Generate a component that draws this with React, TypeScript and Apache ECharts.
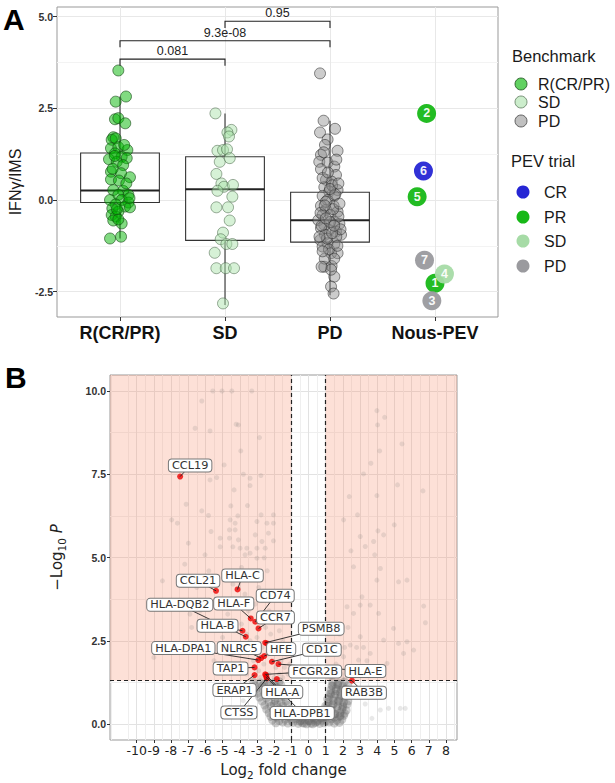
import React, { useEffect, useRef } from 'react';
import * as echarts from 'echarts';

// ---------- Panel A data ----------
const groupNames = ['R(CR/PR)', 'SD', 'PD', 'Nous-PEV'];
// [lower whisker, Q1, median, Q3, upper whisker]
const boxStats = [
  [-1.05, -0.07, 0.26, 1.28, 2.82],
  [-2.86, -1.1, 0.29, 1.18, 2.36],
  [-2.6, -1.15, -0.55, 0.21, 2.16],
];
const rPoints = [
  [0.984, 3.53], [0.959, 2.68], [1.057, 2.82], [0.952, 2.2], [0.984, 2.23], [1.05, 2.09], [0.936, 1.71],
  [0.921, 1.64], [0.959, 1.68], [0.914, 1.41], [0.984, 1.44], [1.07, 1.36], [0.952, 1.27], [1.016, 1.18],
  [0.895, 1.11], [1.064, 1.14], [0.969, 1.04], [1.03, 0.95], [0.914, 0.77], [1.01, 0.73], [1.095, 0.62],
  [0.914, 0.56], [0.99, 0.53], [0.936, 0.27], [1.03, 0.25], [1.08, 0.14], [0.984, 0.14], [0.905, 0.0],
  [1.016, 0.0], [1.08, -0.07], [0.959, -0.12], [0.927, -0.23], [1.048, -0.18], [1.095, -0.2], [0.984, -0.32],
  [0.921, -0.41], [0.959, -0.45], [0.936, -0.56], [1.016, -0.64], [0.984, -0.53], [0.905, -1.05], [1.01, -1.0],
  [1.04, 1.5], [0.93, 0.85], [1.06, 0.45], [0.97, -0.25], [1.09, 0.05], [0.95, 1.2],
];
const sdPoints = [
  [1.909, 2.36], [2.061, 1.91], [2.023, 1.84], [2.038, 1.73], [1.928, 1.34], [1.981, 1.36], [2.019, 1.38],
  [1.95, 1.04], [2.045, 1.14], [1.918, 0.71], [1.966, 0.45], [1.99, 0.36], [2.076, 0.41], [1.928, 0.25],
  [2.07, 0.09], [1.918, -0.2], [2.029, -0.2], [2.045, -0.56], [1.981, -0.89], [1.959, -1.07], [2.013, -1.2],
  [2.07, -1.2], [1.902, -1.44], [1.918, -1.86], [2.007, -1.86], [2.086, -1.86], [1.981, -2.82],
];
const pdPoints = [
  [2.905, 3.45], [2.939, 2.16], [3.048, 1.94], [2.905, 1.84], [2.977, 1.65], [2.952, 1.5], [3.072, 1.34],
  [2.914, 1.23], [2.898, 1.04], [2.977, 1.02], [2.914, 0.84], [3.041, 0.91], [3.057, 0.68], [2.962, 0.55],
  [3.015, 0.5], [2.946, 0.35], [3.072, 0.27], [2.993, 0.23], [2.93, 0.11], [3.041, 0.11], [2.977, 0.0],
  [2.914, -0.16], [3.034, -0.16], [2.962, -0.27], [3.072, -0.32], [2.93, -0.41], [3.003, -0.41], [2.889, -0.55],
  [3.041, -0.59], [2.946, -0.68], [3.089, -0.65], [2.914, -0.77], [2.993, -0.82], [3.057, -0.86], [2.952, -0.95],
  [3.105, -0.95], [2.908, -1.09], [2.977, -1.18], [3.041, -1.2], [2.93, -1.27], [3.01, -1.45], [3.072, -1.45],
  [2.946, -1.82], [3.015, -1.8], [3.041, -2.09], [3.01, -2.36], [3.034, -2.55],
  [2.96, -0.05], [3.02, 0.4], [2.92, -0.7], [3.06, -1.0], [2.99, -1.35], [3.08, -0.45], [2.93, 0.6],
  [3.03, -0.25], [2.97, -1.05], [3.05, 0.15], [2.91, -0.35], [3.0, -0.6], [3.1, -0.8], [2.95, -1.6],
  [3.04, -1.6], [2.94, 1.3], [3.06, 1.1], [2.98, 0.75], [3.01, -1.9], [2.95, -0.15], [3.07, -1.25],
  [2.9, -1.0], [3.02, -0.9], [2.96, -0.5], [3.04, -0.7], [3.09, -0.1], [2.93, -1.4], [3.0, 0.3],
  [2.92, -1.82], [3.08, 0.45],
];
const pevIds = ['1', '2', '3', '4', '5', '6', '7'];
const pevX = [4.0, 3.92, 3.97, 4.09, 3.83, 3.89, 3.9];
const pevY = [-2.27, 2.36, -2.75, -2.02, 0.09, 0.79, -1.64];
const pevResponse = ['PR', 'PR', 'PD', 'SD', 'PR', 'CR', 'PD'];
const bracketFrom = [1, 1, 2];
const bracketTo = [2, 3, 3];
const bracketY = [3.84, 4.34, 4.87];
const bracketLabels = ['0.081', '9.3e-08', '0.95'];
const benchmarkNames = ['R(CR/PR)', 'SD', 'PD'];
const pevTrialNames = ['CR', 'PR', 'SD', 'PD'];
const aYTicks = [-2.5, 0, 2.5, 5];
const aYMinor = [-1.25, 1.25, 3.75];

// ---------- Panel B data ----------
const geneNames = ['CCL19', 'CCL21', 'HLA-C', 'HLA-F', 'CD74', 'CCR7', 'HLA-B', 'HLA-DQB2', 'PSMB8', 'HLA-DPA1',
  'NLRC5', 'HFE', 'CD1C', 'FCGR2B', 'HLA-E', 'TAP1', 'ERAP1', 'HLA-A', 'CTSS', 'HLA-DPB1', 'RAB3B'];
const geneLog2FC = [-7.47, -5.38, -4.13, -3.36, -3.1, -2.91, -3.84, -3.65, -2.52, -2.92,
  -2.75, -2.58, -2.13, -2.52, -1.75, -3.14, -3.14, -2.46, -2.42, -2.46, 2.53];
const geneNegLogP = [7.43, 4.0, 4.04, 3.17, 3.07, 2.87, 2.8, 2.62, 2.44, 1.92,
  1.98, 2.04, 1.87, 1.49, 1.8, 1.7, 1.47, 1.47, 1.37, 1.41, 1.3];
// label placement offsets (px) relative to the gene point
const labelOffsets = [[10, -11], [-18, -10], [5, -14], [-17, -15], [20, -26], [17, -11], [-25, -5], [-66, -32],
  [56, -14], [-75, -12], [-22, -10], [17, -7], [50, -12], [50, -3], [87, 7], [-24, 1], [-20, 15], [16, 17],
  [-28, 34], [36, 36], [12, 12]];
const extraHighlighted = [[-1.84, 1.35], [-2.42, 2.42]];
const sigGrayPoints = [
  [-5.57, 10], [-5.03, 10], [-4.46, 10], [-3.3, 10], [-6.21, 9.7], [-6.6, 8.88], [-5.73, 8.8], [-4.21, 9.0],
  [-4.08, 8.98], [-2.85, 8.6], [-3.94, 8.2], [-4.91, 7.78], [-5.73, 7.33], [-5.34, 7.4], [-3.79, 7.5], [-2.77, 7.46],
  [-3.4, 7.38], [-3.4, 7.16], [-4.33, 7.03], [-7.12, 6.6], [-4.52, 6.55], [-3.55, 6.56], [-6.21, 6.4], [-5.82, 6.26],
  [-7.96, 6.13], [-7.63, 6.03], [-4.56, 6.13], [-4.27, 6.03], [-4.11, 6.25], [-2.76, 6.28], [-3.0, 6.08], [-2.42, 6.03],
  [-2.04, 6.28], [-2.04, 6.03], [-5.67, 5.78], [-4.6, 5.83], [-4.27, 5.83], [-5.14, 5.58], [-4.6, 5.58], [-4.08, 5.53],
  [-3.1, 5.68], [-2.33, 5.73], [-2.04, 5.5], [-2.71, 5.48], [-6.99, 5.43], [-6.02, 5.08], [-5.14, 5.32], [-4.4, 5.32],
  [-3.98, 5.28], [-3.59, 5.28], [-3.4, 5.13], [-3.0, 5.28], [-2.52, 5.28], [-3.69, 5.08], [-3.0, 4.98], [-2.58, 4.99],
  [-8.5, 4.3], [-7.8, 3.6], [-7.2, 4.8], [-6.8, 2.9], [-6.5, 4.1], [-6.3, 3.4], [-6.0, 2.4], [-5.8, 4.6], [-5.6, 3.0],
  [-5.5, 1.9], [-5.2, 3.7], [-5.0, 2.6], [-4.9, 4.5], [-4.8, 1.6], [-4.7, 3.3], [-4.5, 2.1], [-4.4, 4.2], [-4.3, 2.8],
  [-4.2, 3.6], [-4.0, 1.8], [-3.9, 4.7], [-3.8, 2.3], [-3.7, 3.9], [-3.6, 1.5], [-3.5, 3.4], [-3.4, 2.5], [-3.3, 4.4],
  [-3.2, 1.9], [-3.1, 3.6], [-3.0, 2.6], [-2.9, 4.1], [-2.9, 1.6], [-2.8, 3.2], [-2.7, 2.3], [-2.6, 3.8], [-2.6, 1.8],
  [-2.5, 2.9], [-2.4, 2.1], [-2.4, 4.6], [-2.3, 3.4], [-2.3, 1.5], [-2.2, 2.7], [-2.1, 1.9], [-2.1, 3.9], [-2.0, 2.4],
  [-2.0, 1.4], [-1.9, 3.1], [-1.9, 1.7], [-1.8, 2.2], [-1.7, 2.8], [-1.7, 1.5], [-1.6, 1.9], [-1.5, 2.5], [-1.5, 1.4],
  [-1.4, 1.7], [-1.3, 2.1], [-1.2, 1.5], [-1.1, 1.8], [-3.3, 2.2], [-3.6, 2.7], [-2.8, 1.4], [-3.9, 3.0], [-5.4, 4.4],
  [-6.9, 3.3], [-7.6, 2.4], [-9.0, 2.0],
  [3.98, 9.41], [4.43, 9.21], [4.02, 8.98], [5.44, 8.41], [4.14, 8.2], [3.63, 7.83], [3.2, 7.51], [5.18, 7.18],
  [6.66, 7.0], [2.37, 6.83], [3.98, 6.86], [2.04, 6.13], [2.85, 6.28], [4.99, 5.98], [4.04, 5.8], [4.37, 5.68],
  [3.79, 5.48], [3.01, 5.63], [3.3, 5.33], [2.47, 5.2], [3.85, 5.08], [2.62, 4.72], [4.18, 4.67], [5.24, 4.27],
  [5.73, 4.32], [3.98, 4.32], [3.11, 3.82], [3.59, 3.57], [3.01, 3.57], [6.7, 3.54], [6.8, 3.04], [4.08, 3.32],
  [2.62, 3.32], [2.24, 3.52], [4.95, 2.87], [5.73, 2.47], [6.12, 2.22], [5.24, 2.42], [4.37, 2.52], [3.59, 2.12],
  [3.01, 2.62], [2.43, 2.37], [2.04, 2.02], [2.91, 1.92], [3.79, 1.72], [4.57, 1.82], [1.46, 1.52], [2.24, 1.62],
  [3.3, 1.52], [5.53, 2.12], [1.3, 1.4], [1.6, 1.8], [1.9, 1.5], [2.1, 2.3], [2.6, 1.7], [1.5, 2.1], [2.8, 2.3],
  [1.8, 2.7], [2.3, 2.9], [3.2, 2.3], [3.4, 1.9], [2.0, 1.35], [2.7, 1.45],
  [4.66, 0.47], [5.34, 0.47], [5.63, 0.47], [3.69, 0.17], [4.18, 0.42], [3.0, 0.9], [3.3, 0.6], [-4.2, 1.0],
  [-3.8, 0.7], [-4.6, 0.5], [-3.5, 1.15],
];
const cloudPoints = [
  [-1.9, 0.03], [-1.5, 0.05], [-1.2, 0.02], [-0.9, 0.04], [-0.6, 0.01], [-0.35, 0.03], [-0.1, 0.0], [0.15, 0.02],
  [0.4, 0.04], [0.65, 0.01], [0.9, 0.03], [1.2, 0.05], [1.5, 0.02], [1.8, 0.04],
  [-2.1, 0.12], [-1.7, 0.1], [-1.35, 0.13], [-1.0, 0.11], [-0.75, 0.14], [-0.45, 0.1], [-0.2, 0.12], [0.05, 0.09],
  [0.3, 0.13], [0.55, 0.11], [0.8, 0.12], [1.05, 0.1], [1.35, 0.14], [1.65, 0.11], [1.95, 0.13],
  [-2.2, 0.22], [-1.85, 0.2], [-1.5, 0.24], [-1.15, 0.21], [-0.85, 0.23], [-0.5, 0.2], [-0.15, 0.22], [0.25, 0.19],
  [0.6, 0.23], [0.9, 0.21], [1.2, 0.24], [1.5, 0.2], [1.8, 0.22], [2.05, 0.25],
  [-2.3, 0.33], [-1.95, 0.31], [-1.6, 0.35], [-1.25, 0.32], [-0.95, 0.34], [-0.6, 0.3], [0.6, 0.31], [0.95, 0.35],
  [1.25, 0.33], [1.55, 0.3], [1.85, 0.34], [2.1, 0.32],
  [-2.45, 0.44], [-2.05, 0.42], [-1.7, 0.46], [-1.35, 0.43], [-1.05, 0.45], [-0.8, 0.41], [0.8, 0.43], [1.05, 0.46],
  [1.35, 0.42], [1.65, 0.45], [1.95, 0.44], [2.2, 0.41],
  [-2.55, 0.56], [-2.2, 0.54], [-1.85, 0.58], [-1.5, 0.55], [-1.2, 0.57], [1.1, 0.55], [1.4, 0.58], [1.7, 0.54],
  [2.0, 0.56], [2.25, 0.59],
  [-2.7, 0.68], [-2.3, 0.66], [-1.95, 0.7], [-1.6, 0.67], [-1.3, 0.69], [1.15, 0.66], [1.45, 0.7], [1.75, 0.68],
  [2.05, 0.65], [2.3, 0.69],
  [-2.85, 0.8], [-2.45, 0.78], [-2.05, 0.82], [-1.7, 0.79], [-1.4, 0.81], [1.2, 0.8], [1.5, 0.83], [1.8, 0.78],
  [2.1, 0.81],
  [-2.95, 0.92], [-2.55, 0.9], [-2.15, 0.94], [-1.8, 0.91], [-1.45, 0.93], [1.25, 0.92], [1.55, 0.9], [1.85, 0.95],
  [2.15, 0.91],
  [-3.05, 1.04], [-2.65, 1.02], [-2.25, 1.06], [-1.9, 1.03], [-1.55, 1.05], [1.3, 1.03], [1.6, 1.06], [1.9, 1.02],
  [2.2, 1.05],
  [-3.1, 1.16], [-2.7, 1.14], [-2.3, 1.18], [-1.95, 1.15], [-1.6, 1.17], [1.35, 1.15], [1.7, 1.18], [2.0, 1.14],
  [2.3, 1.16],
  [-3.2, 1.26], [-2.8, 1.24], [-2.4, 1.27], [-2.0, 1.25], [-1.7, 1.28], [1.4, 1.26], [1.75, 1.24], [2.1, 1.27],
  [1.3, 0.9], [1.6, 1.0], [1.9, 0.85], [1.45, 0.6], [1.75, 0.7], [2.0, 0.5], [1.2, 0.35], [1.55, 0.3], [1.85, 0.25],
  [1.4, 1.15], [1.7, 1.2], [2.05, 1.05], [1.1, 0.75], [1.0, 0.55], [-0.5, 0.08], [0.0, 0.1], [0.5, 0.07],
  [0.25, 0.0], [-0.25, 0.02], [0.75, 0.18], [-0.7, 0.25], [1.0, 0.2], [-2.0, 0.6], [-1.6, 0.4], [-2.4, 0.9],
  [-1.8, 1.1], [-2.6, 1.2], [-1.3, 0.3],
];
const fcThreshold = 1;
const pThreshold = 1.3;
const bXTicks = [-10, -9, -8, -7, -6, -5, -4, -3, -2, -1, 0, 1, 2, 3, 4, 5, 6, 7, 8];
const bXMinor = [-11.5, -10.5, -9.5, -8.5, -7.5, -6.5, -5.5, -4.5, -3.5, -2.5, -1.5, -0.5, 0.5, 1.5, 2.5,
  3.5, 4.5, 5.5, 6.5, 7.5, 8.5];
const bYTicks = [0, 2.5, 5, 7.5, 10];
const bYMinor = [1.25, 3.75, 6.25, 8.75];

const A_X = [0.4, 4.6];
const A_Y = [-3.19, 5.26];
const B_X = [-11.55, 8.64];
const B_Y = [-0.48, 10.48];

const SANS = 'Liberation Sans, Arial, sans-serif';
const DJV = 'DejaVu Sans, sans-serif';

const pevColors: Record<string, string> = { CR: '#2626d4', PR: '#17b817', SD: '#a6dba6', PD: '#9a9a9e' };
const benchFill = ['rgba(0,180,0,0.62)', 'rgba(170,225,170,0.6)', 'rgba(140,140,140,0.55)'];
const benchStroke = ['rgba(20,70,20,0.85)', 'rgba(70,100,70,0.75)', 'rgba(40,40,40,0.75)'];

export default function App() {
  const ref = useRef<HTMLDivElement>(null);
  useEffect(() => {
    if (!ref.current) return;
    const chart = echarts.init(ref.current, null, { renderer: 'svg' });

    const minorAxis = (gridIndex: number, range: number[], customValues: number[], color: string) => ({
      type: 'value', gridIndex, min: range[0], max: range[1],
      axisLine: { show: false, onZero: false }, axisLabel: { show: false },
      axisTick: { show: false, customValues },
      splitLine: { show: true, lineStyle: { color, width: 1 } },
    });

    const benchSeries = [rPoints, sdPoints, pdPoints].map((pts, i) => ({
      type: 'scatter', name: benchmarkNames[i], xAxisIndex: 0, yAxisIndex: 0, data: pts,
      symbolSize: 11, z: 3,
      itemStyle: { color: benchFill[i], borderColor: benchStroke[i], borderWidth: 0.9 },
    }));

    const legendGraphics: any[] = [];
    legendGraphics.push({ type: 'text', left: 512, top: 47, style: { text: 'Benchmark', fontSize: 16.5, fontFamily: SANS, fill: '#1a1a1a' } });
    const benchY = [84, 102, 121];
    benchmarkNames.forEach((n, i) => {
      legendGraphics.push({ type: 'circle', shape: { cx: 521, cy: benchY[i], r: 6 }, style: { fill: benchFill[i], stroke: benchStroke[i], lineWidth: 0.9 } });
      legendGraphics.push({ type: 'text', x: 538, y: benchY[i], style: { text: n, fontSize: 16, fontFamily: SANS, fill: '#1a1a1a', verticalAlign: 'middle' } });
    });
    legendGraphics.push({ type: 'text', left: 511, top: 152, style: { text: 'PEV trial', fontSize: 16.5, fontFamily: SANS, fill: '#1a1a1a' } });
    const pevLegY = [192, 217, 241, 266];
    pevTrialNames.forEach((n, i) => {
      legendGraphics.push({ type: 'circle', shape: { cx: 523, cy: pevLegY[i], r: 6.5 }, style: { fill: pevColors[n] } });
      legendGraphics.push({ type: 'text', x: 544, y: pevLegY[i], style: { text: n, fontSize: 16, fontFamily: SANS, fill: '#1a1a1a', verticalAlign: 'middle' } });
    });

    const option: any = {
      animation: false,
      backgroundColor: '#fff',
      grid: [
        { left: 57, top: 7, width: 441, height: 310, show: true, borderColor: '#999', borderWidth: 1, backgroundColor: 'transparent' },
        { left: 110, top: 375, width: 347, height: 365, show: true, borderColor: '#999', borderWidth: 1, backgroundColor: 'transparent' },
      ],
      xAxis: [
        {
          type: 'value', gridIndex: 0, min: A_X[0], max: A_X[1],
          axisLine: { show: false, onZero: false },
          axisTick: { show: true, customValues: [1, 2, 3, 4], length: 4, lineStyle: { color: '#333' } },
          axisLabel: {
            customValues: [1, 2, 3, 4], formatter: (v: number) => groupNames[Math.round(v) - 1],
            fontSize: 18, fontWeight: 'bold', color: '#111', fontFamily: SANS, margin: 7,
          },
          splitLine: { show: true, lineStyle: { color: '#e8e8e8' } },
        },
        {
          type: 'value', gridIndex: 1, min: B_X[0], max: B_X[1],
          axisLine: { show: false, onZero: false },
          axisTick: { show: true, customValues: bXTicks, length: 3, lineStyle: { color: '#333' } },
          axisLabel: { customValues: bXTicks, formatter: (v: number) => String(v), fontSize: 12.5, color: '#222', fontFamily: DJV, margin: 4 },
          splitLine: { show: true, lineStyle: { color: '#e2e2e2' } },
          name: '{n|Log}{s|2}{n| fold change}', nameLocation: 'middle', nameGap: 20,
          nameTextStyle: {
            rich: {
              n: { fontSize: 15, fontFamily: DJV, color: '#222', lineHeight: 20 },
              s: { fontSize: 10.5, fontFamily: DJV, color: '#222', lineHeight: 20, verticalAlign: 'bottom' },
            },
          },
        },
        minorAxis(1, B_X, bXMinor, '#efefef'),
      ],
      yAxis: [
        {
          type: 'value', gridIndex: 0, min: A_Y[0], max: A_Y[1],
          axisLine: { show: false, onZero: false },
          axisTick: { show: true, customValues: aYTicks, length: 4, lineStyle: { color: '#333' } },
          axisLabel: { customValues: aYTicks, formatter: (v: number) => v.toFixed(1), fontSize: 10.5, fontWeight: 'bold', color: '#333', fontFamily: SANS, margin: 4 },
          splitLine: { show: true, lineStyle: { color: '#e8e8e8' } },
        },
        minorAxis(0, A_Y, aYMinor, '#f3f3f3'),
        {
          type: 'value', gridIndex: 1, min: B_Y[0], max: B_Y[1],
          axisLine: { show: false, onZero: false },
          axisTick: { show: true, customValues: bYTicks, length: 3, lineStyle: { color: '#333' } },
          axisLabel: { customValues: bYTicks, formatter: (v: number) => v.toFixed(1), fontSize: 10.5, fontWeight: 'bold', color: '#333', fontFamily: SANS, margin: 4 },
          splitLine: { show: true, lineStyle: { color: '#e2e2e2' } },
          name: '{n|\u2212Log}{s|10}{i| P}', nameLocation: 'middle', nameGap: 43, nameRotate: 90,
          nameTextStyle: {
            rich: {
              n: { fontSize: 15, fontFamily: DJV, color: '#222', lineHeight: 20 },
              s: { fontSize: 10.5, fontFamily: DJV, color: '#222', lineHeight: 20, verticalAlign: 'bottom' },
              i: { fontSize: 15, fontFamily: DJV, fontStyle: 'italic', color: '#222', lineHeight: 20 },
            },
          },
        },
        minorAxis(1, B_Y, bYMinor, '#efefef'),
      ],
      series: [
        // ----- Panel A boxes
        {
          type: 'custom', xAxisIndex: 0, yAxisIndex: 0, z: 2,
          data: boxStats.map((s, i) => [i + 1, ...s]),
          encode: { x: 0, y: [1, 2, 3, 4, 5] },
          renderItem: (params: any, api: any) => {
            const x = api.value(0);
            const half = 0.375;
            const lw = api.coord([x, api.value(1)]);
            const q1 = api.coord([x, api.value(2)]);
            const q3 = api.coord([x, api.value(4)]);
            const uw = api.coord([x, api.value(5)]);
            const left = api.coord([x - half, api.value(4)]);
            const right = api.coord([x + half, api.value(2)]);
            const medL = api.coord([x - half, api.value(3)]);
            const medR = api.coord([x + half, api.value(3)]);
            const st = { stroke: '#333', lineWidth: 1.1 };
            return {
              type: 'group',
              children: [
                { type: 'line', shape: { x1: uw[0], y1: uw[1], x2: q3[0], y2: q3[1] }, style: st },
                { type: 'line', shape: { x1: q1[0], y1: q1[1], x2: lw[0], y2: lw[1] }, style: st },
                { type: 'rect', shape: { x: left[0], y: left[1], width: right[0] - left[0], height: right[1] - left[1] }, style: { fill: '#fff', stroke: '#333', lineWidth: 1.1 } },
                { type: 'line', shape: { x1: medL[0], y1: medL[1], x2: medR[0], y2: medR[1] }, style: { stroke: '#222', lineWidth: 2 } },
              ],
            };
          },
        },
        ...benchSeries,
        {
          type: 'scatter', xAxisIndex: 0, yAxisIndex: 0, z: 4, symbolSize: 19,
          data: pevIds.map((id, i) => ({ value: [pevX[i], pevY[i]], name: id, itemStyle: { color: pevColors[pevResponse[i]], opacity: 0.95 } })),
          label: { show: true, position: 'inside', formatter: '{b}', color: '#fff', fontWeight: 'bold', fontSize: 12.5, fontFamily: SANS },
        },
        // brackets
        {
          type: 'custom', xAxisIndex: 0, yAxisIndex: 0, z: 5,
          data: bracketLabels.map((l, i) => [bracketFrom[i], bracketTo[i], bracketY[i], i]),
          renderItem: (params: any, api: any) => {
            const x1 = api.value(0), x2 = api.value(1), y = api.value(2);
            const drop = 0.18;
            const a = api.coord([x1, y - drop]);
            const b = api.coord([x1, y]);
            const c = api.coord([x2, y]);
            const d = api.coord([x2, y - drop]);
            return {
              type: 'group',
              children: [
                { type: 'polyline', shape: { points: [a, b, c, d] }, style: { stroke: '#222', lineWidth: 1.1, fill: 'none' } },
                { type: 'text', x: (b[0] + c[0]) / 2, y: b[1] - 1.5, style: { text: bracketLabels[api.value(3)], fontSize: 12.5, fontFamily: SANS, fill: '#222', align: 'center', verticalAlign: 'bottom' } },
              ],
            };
          },
        },
        // ----- Panel B
        {
          type: 'scatter', xAxisIndex: 1, yAxisIndex: 2, z: 3, symbolSize: 5,
          data: sigGrayPoints,
          itemStyle: { color: 'rgba(110,110,110,0.2)' },
          markArea: {
            silent: true,
            itemStyle: { color: 'rgba(246,140,108,0.27)' },
            data: [
              [{ xAxis: B_X[0], yAxis: pThreshold }, { xAxis: -fcThreshold, yAxis: B_Y[1] }],
              [{ xAxis: fcThreshold, yAxis: pThreshold }, { xAxis: B_X[1], yAxis: B_Y[1] }],
            ],
          },
          markLine: {
            silent: true, symbol: 'none', label: { show: false },
            lineStyle: { color: '#222', width: 1.2, type: [4, 3] },
            data: [{ xAxis: -fcThreshold }, { xAxis: fcThreshold }, { yAxis: pThreshold }],
          },
        },
        {
          type: 'scatter', xAxisIndex: 1, yAxisIndex: 2, z: 3, symbolSize: 8.5,
          data: cloudPoints,
          itemStyle: { color: 'rgba(100,100,100,0.4)' },
        },
        {
          type: 'scatter', xAxisIndex: 1, yAxisIndex: 2, z: 4, symbolSize: 6,
          data: [...geneNames.map((n, i) => [geneLog2FC[i], geneNegLogP[i]]), ...extraHighlighted],
          itemStyle: { color: '#ee0000' },
        },
        {
          type: 'custom', xAxisIndex: 1, yAxisIndex: 2, z: 5,
          data: geneNames.map((n, i) => [geneLog2FC[i], geneNegLogP[i], i]),
          renderItem: (params: any, api: any) => {
            const p = api.coord([api.value(0), api.value(1)]);
            const o = labelOffsets[api.value(2)];
            return { type: 'line', shape: { x1: p[0], y1: p[1], x2: p[0] + o[0], y2: p[1] + o[1] }, style: { stroke: '#222', lineWidth: 0.9 } };
          },
        },
        {
          type: 'custom', xAxisIndex: 1, yAxisIndex: 2, z: 6,
          data: geneNames.map((n, i) => [geneLog2FC[i], geneNegLogP[i], i]),
          renderItem: (params: any, api: any) => {
            const p = api.coord([api.value(0), api.value(1)]);
            const idx = api.value(2);
            const o = labelOffsets[idx];
            return {
              type: 'text', x: p[0] + o[0], y: p[1] + o[1],
              style: {
                text: geneNames[idx], fontSize: 11.3, fontFamily: DJV, fill: '#333', align: 'center', verticalAlign: 'middle',
                backgroundColor: '#fff', borderColor: '#777', borderWidth: 1, borderRadius: 3, padding: [1, 3, 0, 3],
              },
            };
          },
        },
      ],
      graphic: [
        { type: 'text', left: 3, top: 4, style: { text: 'A', fontSize: 30, fontWeight: 'bold', fontFamily: SANS, fill: '#000' } },
        { type: 'text', left: 5, top: 362, style: { text: 'B', fontSize: 30, fontWeight: 'bold', fontFamily: SANS, fill: '#000' } },
        { type: 'text', x: 15, y: 182, rotation: Math.PI / 2, style: { text: 'IFN\u03b3/IMS', fontSize: 16, fontFamily: SANS, fill: '#1a1a1a', align: 'center', verticalAlign: 'middle' } },
        ...legendGraphics,
      ],
    };
    chart.setOption(option);
    return () => chart.dispose();
  }, []);
  return <div ref={ref} style={{ position: 'absolute', left: 0, top: 0, width: 615, height: 783 }} />;
}
